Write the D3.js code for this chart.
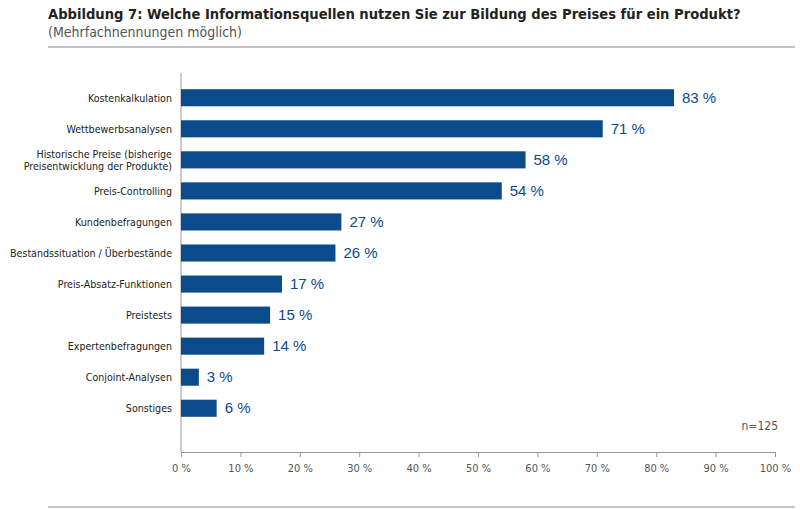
<!DOCTYPE html>
<html><head><meta charset="utf-8">
<script src="https://cdn.jsdelivr.net/npm/d3@7"></script>
<style>body{margin:0;background:#fff}</style></head>
<body><script>
var categories = ["Kostenkalkulation","Wettbewerbsanalysen","Historische Preise (bisherige|Preisentwicklung der Produkte)","Preis-Controlling","Kundenbefragungen","Bestandssituation / Überbestände","Preis-Absatz-Funktionen","Preistests","Expertenbefragungen","Conjoint-Analysen","Sonstiges"];
var values = [83,71,58,54,27,26,17,15,14,3,6];
var ticks = [0,10,20,30,40,50,60,70,80,90,100];

var font = "'Liberation Sans Narrow','DejaVu Sans Condensed',sans-serif";
var svg = d3.select("body").append("svg").attr("width",800).attr("height",510);
svg.append("text").attr("x",48).attr("y",19).text("Abbildung 7: Welche Informationsquellen nutzen Sie zur Bildung des Preises für ein Produkt?")
  .style("font-family",font).style("font-weight","bold").style("font-size","14.6px").attr("fill","#222");
svg.append("text").attr("x",48).attr("y",37).text("(Mehrfachnennungen möglich)")
  .style("font-family",font).style("font-size","14px").attr("fill","#555");
svg.append("line").attr("x1",48).attr("x2",795).attr("y1",47).attr("y2",47).attr("stroke","#888");
svg.append("line").attr("x1",48).attr("x2",795).attr("y1",507).attr("y2",507).attr("stroke","#888");

var x = d3.scaleLinear().domain([0,100]).range([181,775]);
var y = d3.scaleBand().domain(categories).range([83,423]).paddingInner(0.45).paddingOuter(0.2);

svg.append("line").attr("x1",181).attr("x2",181).attr("y1",73).attr("y2",452).attr("stroke","#999");
var ax = svg.append("g").attr("transform","translate(0,452)")
  .call(d3.axisBottom(x).tickValues(ticks).tickSize(5).tickFormat(d=>d+" %"));
ax.select(".domain").attr("stroke","#999");
ax.selectAll("line").attr("stroke","#999");
ax.selectAll("text").attr("dy","1.1em").style("font-family",font).style("font-size","11px").attr("fill","#555");

svg.selectAll("rect.bar").data(values).enter().append("rect")
  .attr("x",x(0)).attr("y",(d,i)=>y(categories[i])).attr("height",y.bandwidth())
  .attr("width",d=>x(d)-x(0)).attr("fill","#0b4a8b");
svg.selectAll("text.val").data(values).enter().append("text")
  .attr("x",d=>x(d)+8).attr("y",(d,i)=>y(categories[i])+y.bandwidth()/2+5)
  .text(d=>d+" %").style("font-family","'Liberation Sans',sans-serif").style("font-size","15px").attr("fill","#0b4a8b");
categories.forEach(function(c){
  var parts=c.split("|"), cy=y(c)+y.bandwidth()/2;
  var t=svg.append("text").attr("text-anchor","end").style("font-family",font).style("font-size","10.6px").attr("fill","#222");
  parts.forEach(function(p,j){
    t.append("tspan").attr("x",172).attr("y",cy+4+(j-(parts.length-1)/2)*12).text(p);
  });
});
svg.append("text").attr("x",778).attr("y",430).attr("text-anchor","end").text("n=125")
  .style("font-family",font).style("font-size","12px").attr("fill","#555");
</script></body></html>
